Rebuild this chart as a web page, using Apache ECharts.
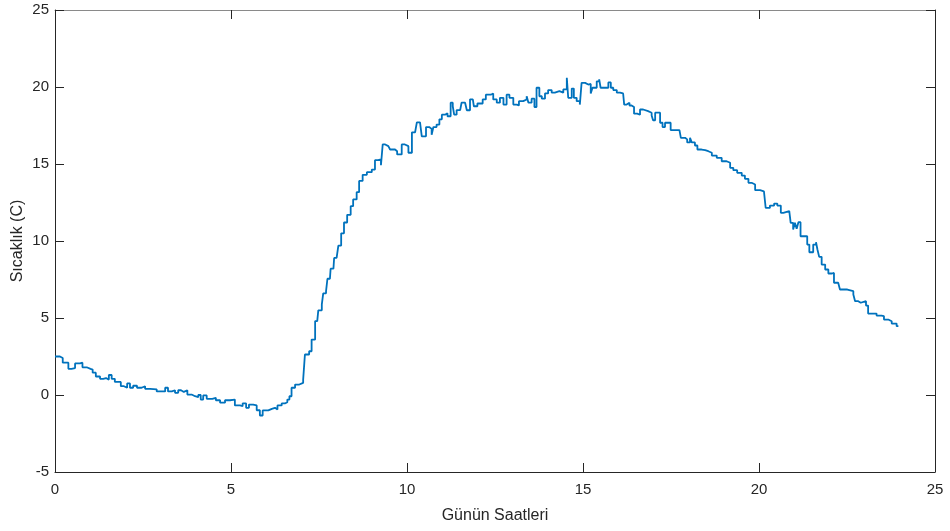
<!DOCTYPE html>
<html>
<head>
<meta charset="utf-8">
<script src="https://cdn.jsdelivr.net/npm/echarts@6/dist/echarts.min.js"></script>
<style>
html,body{margin:0;padding:0;background:#fff;}
#c{width:950px;height:531px;}
</style>
</head>
<body>
<div id="c"></div>
<script>
const xTicks = [0, 5, 10, 15, 20, 25];
const yTicks = [-5, 0, 5, 10, 15, 20, 25];
const xTitle = 'Günün Saatleri';
const yTitle = 'Sıcaklık (C)';

const hours = [
  0.00, 0.14, 0.22, 0.38, 0.47, 0.57, 0.71, 0.78, 0.90, 1.01, 1.07, 1.16, 1.28, 1.37, 1.45, 1.53, 1.61, 1.70, 1.87, 1.96,
  2.05, 2.13, 2.22, 2.33, 2.46, 2.56, 2.70, 2.89, 3.03, 3.13, 3.21, 3.32, 3.41, 3.50, 3.58, 3.66, 3.76, 3.88, 3.98, 4.07,
  4.14, 4.21, 4.31, 4.47, 4.57, 4.69, 4.83, 4.97, 5.11, 5.26, 5.33, 5.43, 5.51, 5.63, 5.73, 5.82, 5.90, 6.06, 6.16, 6.25,
  6.32, 6.44, 6.53, 6.60, 6.66, 6.72, 6.82, 6.94, 7.05, 7.10, 7.22, 7.29, 7.39, 7.45, 7.48, 7.58, 7.62, 7.70, 7.74, 7.81,
  7.83, 7.91, 7.93, 8.00, 8.05, 8.13, 8.21, 8.30, 8.40, 8.47, 8.57, 8.64, 8.74, 8.86, 9.00, 9.09, 9.18, 9.26, 9.31, 9.38,
  9.47, 9.52, 9.66, 9.72, 9.85, 9.94, 10.04, 10.14, 10.23, 10.28, 10.37, 10.42, 10.54, 10.63, 10.70, 10.75, 10.84, 10.92, 10.99, 11.08,
  11.15, 11.24, 11.30, 11.34, 11.41, 11.51, 11.55, 11.65, 11.70, 11.79, 11.87, 11.90, 12.00, 12.15, 12.24, 12.38, 12.45, 12.55, 12.64, 12.74,
  12.83, 12.91, 13.02, 13.12, 13.18, 13.30, 13.40, 13.45, 13.54, 13.62, 13.68, 13.76, 13.83, 13.92, 14.01, 14.11, 14.20, 14.33, 14.44, 14.54,
  14.58, 14.68, 14.74, 14.82, 14.91, 14.96, 15.06, 15.15, 15.22, 15.27, 15.39, 15.46, 15.50, 15.72, 15.79, 15.86, 15.96, 16.05, 16.14, 16.17,
  16.24, 16.32, 16.38, 16.45, 16.54, 16.62, 16.71, 16.85, 16.95, 16.99, 17.05, 17.19, 17.26, 17.33, 17.49, 17.74, 17.78, 17.90, 17.96, 18.04,
  18.09, 18.18, 18.25, 18.37, 18.47, 18.56, 18.66, 18.80, 18.94, 19.08, 19.18, 19.27, 19.38, 19.51, 19.60, 19.70, 19.79, 19.89, 20.03, 20.14,
  20.19, 20.31, 20.43, 20.52, 20.62, 20.69, 20.86, 20.90, 20.97, 21.02, 21.07, 21.12, 21.18, 21.37, 21.43, 21.54, 21.62, 21.66, 21.71, 21.78,
  21.88, 21.97, 22.07, 22.13, 22.25, 22.30, 22.51, 22.56, 22.68, 22.73, 22.82, 22.89, 23.04, 23.10, 23.34, 23.48, 23.55, 23.67, 23.77, 23.91,
  23.96
];
const temps = [
  2.5, 2.4, 2.1, 1.7, 1.75, 2.05, 2.1, 1.8, 1.7, 1.65, 1.45, 1.2, 1.05, 1.1, 1.0, 1.3, 1.05, 0.85, 0.57, 0.47,
  0.75, 0.47, 0.6, 0.47, 0.57, 0.4, 0.36, 0.23, 0.23, 0.47, 0.23, 0.31, 0.14, 0.31, 0.2, 0.31, 0.03, -0.08, -0.14, 0.0,
  -0.3, -0.03, -0.25, -0.18, -0.34, -0.5, -0.34, -0.3, -0.68, -0.73, -0.55, -0.83, -0.62, -0.68, -0.99, -1.33, -1.0, -0.9, -0.83, -0.94,
  -0.68, -0.55, -0.47, -0.3, -0.08, 0.47, 0.68, 0.79, 1.0, 2.63, 2.84, 3.6, 4.8, 4.9, 5.5, 5.88, 6.6, 6.74, 7.55, 7.67,
  8.2, 8.26, 8.9, 9.0, 9.7, 10.5, 11.2, 11.7, 12.26, 12.7, 13.17, 13.9, 14.3, 14.47, 14.64, 15.25, 15.3, 14.92, 16.27, 16.16,
  16.05, 15.94, 15.83, 15.62, 16.27, 16.16, 15.73, 17.06, 17.13, 17.7, 17.78, 16.8, 17.4, 17.28, 16.9, 17.4, 17.56, 17.9, 18.2, 18.3,
  18.1, 18.98, 18.75, 18.2, 18.5, 18.6, 18.98, 18.86, 18.49, 19.2, 19.28, 18.75, 18.93, 19.19, 19.5, 19.58, 19.19, 18.98, 19.3, 18.86,
  19.5, 19.3, 18.86, 18.8, 19.08, 19.19, 19.4, 18.98, 19.24, 18.7, 19.95, 19.4, 19.24, 19.58, 19.8, 19.63, 19.73, 19.63, 19.84, 20.6,
  19.3, 19.9, 19.3, 19.08, 18.86, 20.27, 20.16, 20.2, 19.58, 19.95, 20.37, 20.5, 19.95, 20.3, 19.95, 19.8, 19.63, 19.58, 19.5, 18.86,
  18.98, 18.8, 18.7, 18.27, 18.2, 18.54, 18.43, 18.33, 18.15, 17.84, 18.33, 17.68, 17.4, 17.68, 17.2, 17.13, 16.7, 16.6, 16.4, 16.7,
  16.4, 16.2, 15.94, 15.9, 15.83, 15.73, 15.55, 15.4, 15.18, 15.08, 14.75, 14.6, 14.43, 14.25, 14.04, 13.78, 13.67, 13.3, 13.23, 13.13,
  12.15, 12.3, 12.43, 12.3, 11.83, 11.94, 12.0, 11.18, 10.75, 11.18, 10.8, 11.22, 10.31, 9.77, 9.27, 9.77, 9.92, 9.45, 8.97, 8.47,
  8.15, 7.89, 7.93, 7.29, 7.18, 6.85, 6.96, 6.74, 6.53, 6.09, 5.99, 6.09, 5.81, 5.29, 5.16, 5.12, 4.9, 4.79, 4.64, 4.47,
  4.43
];

const seriesData = hours.map((h, i) => [h, temps[i]]);
const FONT = 'Liberation Sans, Arial, Helvetica, sans-serif';
const TXT = '#262626';

const chart = echarts.init(document.getElementById('c'), null, {renderer: 'canvas'});
const xMin = xTicks[0], xMax = xTicks[xTicks.length - 1], xInt = xTicks[1] - xTicks[0];
const yMin = yTicks[0], yMax = yTicks[yTicks.length - 1], yInt = yTicks[1] - yTicks[0];

chart.setOption({
  animation: false,
  backgroundColor: '#ffffff',
  grid: {left: 55, right: 15, top: 10, bottom: 59, containLabel: false, outerBoundsMode: 'none'},
  xAxis: [
    {
      type: 'value', position: 'bottom', min: xMin, max: xMax, interval: xInt,
      name: xTitle, nameLocation: 'middle', nameGap: 36,
      nameTextStyle: {color: TXT, fontSize: 16, fontFamily: FONT},
      axisLine: {show: true, onZero: false, lineStyle: {color: TXT, width: 1}},
      axisTick: {show: true, inside: true, length: 9, lineStyle: {color: TXT}},
      axisLabel: {color: TXT, fontSize: 15, fontFamily: FONT, margin: 10},
      splitLine: {show: false}
    },
    {
      type: 'value', position: 'top', min: xMin, max: xMax, interval: xInt,
      axisLine: {show: true, onZero: false, lineStyle: {color: '#8a8a8a', width: 1}},
      axisTick: {show: true, inside: true, length: 9, lineStyle: {color: TXT}},
      axisLabel: {show: false},
      splitLine: {show: false}
    }
  ],
  yAxis: [
    {
      type: 'value', position: 'left', min: yMin, max: yMax, interval: yInt,
      name: yTitle, nameLocation: 'middle', nameGap: 29, nameRotate: 90,
      nameMoveOverlap: false,
      nameTextStyle: {color: TXT, fontSize: 16, fontFamily: FONT},
      axisLine: {show: true, onZero: false, lineStyle: {color: TXT, width: 1}},
      axisTick: {show: true, inside: true, length: 9, lineStyle: {color: TXT}},
      axisLabel: {color: TXT, fontSize: 15, fontFamily: FONT, margin: 6},
      splitLine: {show: false}
    },
    {
      type: 'value', position: 'right', min: yMin, max: yMax, interval: yInt,
      axisLine: {show: true, onZero: false, lineStyle: {color: TXT, width: 1}},
      axisTick: {show: true, inside: true, length: 9, lineStyle: {color: TXT}},
      axisLabel: {show: false},
      splitLine: {show: false}
    }
  ],
  series: [{
    type: 'line',
    xAxisIndex: 0, yAxisIndex: 0,
    data: seriesData,
    step: 'end',
    showSymbol: false,
    symbol: 'none',
    lineStyle: {color: '#0072BD', width: 1.8},
    itemStyle: {color: '#0072BD'}
  }]
});
</script>
</body>
</html>
